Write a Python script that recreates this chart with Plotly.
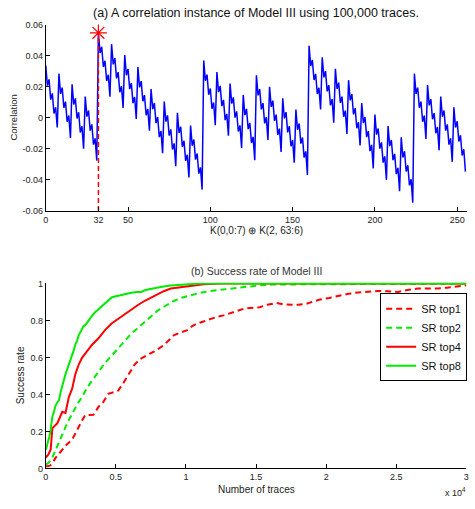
import plotly.graph_objects as go

# ---------------- data: panel (a) ----------------
key_index = list(range(256))
correlation = [
    0.0337, 0.0207, 0.0247, 0.0117, 0.0157, 0.0027, 0.0067, -0.0063,
    0.0284, 0.0154, 0.0194, 0.0064, 0.0104, -0.0026, 0.0014, -0.0130,
    0.0215, 0.0085, 0.0125, -0.0005, 0.0035, -0.0095, -0.0055, -0.0200,
    0.0137, 0.0007, 0.0047, -0.0083, -0.0043, -0.0173, -0.0133, -0.0276,
    0.0547, 0.0417, 0.0457, 0.0327, 0.0367, 0.0237, 0.0277, 0.0135,
    0.0474, 0.0344, 0.0384, 0.0254, 0.0294, 0.0164, 0.0204, 0.0063,
    0.0404, 0.0274, 0.0314, 0.0184, 0.0224, 0.0094, 0.0134, -0.0008,
    0.0326, 0.0196, 0.0236, 0.0106, 0.0146, 0.0016, 0.0056, -0.0084,
    0.0185, 0.0055, 0.0095, -0.0035, 0.0005, -0.0125, -0.0085, -0.0228,
    0.0105, -0.0025, 0.0015, -0.0115, -0.0075, -0.0205, -0.0165, -0.0312,
    0.0032, -0.0098, -0.0058, -0.0188, -0.0148, -0.0278, -0.0238, -0.0385,
    -0.0050, -0.0180, -0.0140, -0.0270, -0.0230, -0.0360, -0.0320, -0.0463,
    0.0368, 0.0238, 0.0278, 0.0148, 0.0188, 0.0058, 0.0098, -0.0048,
    0.0295, 0.0165, 0.0205, 0.0075, 0.0115, -0.0015, 0.0025, -0.0116,
    0.0221, 0.0091, 0.0131, 0.0001, 0.0041, -0.0089, -0.0049, -0.0194,
    0.0147, 0.0017, 0.0057, -0.0073, -0.0033, -0.0163, -0.0123, -0.0274,
    0.0274, 0.0144, 0.0184, 0.0054, 0.0094, -0.0036, 0.0004, -0.0143,
    0.0200, 0.0070, 0.0110, -0.0020, 0.0020, -0.0110, -0.0070, -0.0221,
    0.0126, -0.0004, 0.0036, -0.0094, -0.0054, -0.0184, -0.0144, -0.0290,
    0.0053, -0.0077, -0.0037, -0.0167, -0.0127, -0.0257, -0.0217, -0.0368,
    0.0463, 0.0333, 0.0373, 0.0243, 0.0283, 0.0153, 0.0193, 0.0053,
    0.0390, 0.0260, 0.0300, 0.0170, 0.0210, 0.0080, 0.0120, -0.0032,
    0.0316, 0.0186, 0.0226, 0.0096, 0.0136, 0.0006, 0.0046, -0.0105,
    0.0242, 0.0112, 0.0152, 0.0022, 0.0062, -0.0068, -0.0028, -0.0179,
    0.0095, -0.0035, 0.0005, -0.0125, -0.0085, -0.0215, -0.0175, -0.0326,
    0.0021, -0.0109, -0.0069, -0.0199, -0.0159, -0.0289, -0.0249, -0.0400,
    -0.0053, -0.0183, -0.0143, -0.0273, -0.0233, -0.0363, -0.0323, -0.0474,
    -0.0126, -0.0256, -0.0216, -0.0346, -0.0306, -0.0436, -0.0396, -0.0547,
    0.0284, 0.0154, 0.0194, 0.0064, 0.0104, -0.0026, 0.0014, -0.0137,
    0.0210, 0.0080, 0.0120, -0.0010, 0.0030, -0.0100, -0.0060, -0.0210,
    0.0137, 0.0007, 0.0047, -0.0083, -0.0043, -0.0173, -0.0133, -0.0284,
    0.0067, -0.0063, -0.0023, -0.0153, -0.0113, -0.0243, -0.0203, -0.0347,
]
correct_key = 32
top_xticks = [0, 32, 50, 100, 150, 200, 250]
top_yticks = [-0.06, -0.04, -0.02, 0, 0.02, 0.04, 0.06]
top_yticklabels = ["-0.06", "-0.04", "-0.02", "0", "0.02", "0.04", "0.06"]

# ---------------- data: panel (b) ----------------
top1_x = [0, 300, 500, 704, 950, 1176, 1500, 1880, 2100, 2352, 2600, 2817, 3100, 3400,
          3760, 4112, 4465, 4800, 5169, 5634, 6000, 6338, 6700, 7042, 7400, 7746, 8100,
          8450, 8800, 9155, 9600, 10098, 10450, 10803, 11250, 11739, 12200, 12683, 13150,
          13619, 14100, 14556, 15260, 15800, 16436, 16900, 17373, 18000, 18549, 19000,
          19485, 20200, 20894, 21600, 22302, 23000, 23711, 24400, 25120, 25800, 26528,
          27200, 27936, 28600, 29345, 30000]
top1_y = [0.01, 0.015, 0.03, 0.058, 0.08, 0.103, 0.13, 0.156, 0.19, 0.226, 0.26, 0.289, 0.29, 0.29,
          0.333, 0.36, 0.403, 0.41, 0.421, 0.474, 0.52, 0.562, 0.59, 0.607, 0.62, 0.633, 0.65,
          0.668, 0.695, 0.721, 0.735, 0.748, 0.77, 0.784, 0.795, 0.81, 0.82, 0.828, 0.84,
          0.854, 0.863, 0.868, 0.872, 0.885, 0.895, 0.888, 0.885, 0.885, 0.89, 0.9,
          0.912, 0.922, 0.934, 0.945, 0.952, 0.955, 0.96, 0.958, 0.955, 0.965, 0.973,
          0.973, 0.973, 0.978, 0.983, 0.99]

top2_x = [0, 200, 470, 700, 944, 1100, 1296, 1500, 1700, 1880, 2100, 2350, 2585, 2900, 3289,
          3750, 4225, 4700, 5169, 5650, 6105, 6580, 7063, 7500, 7986, 8550, 9163, 9750,
          10330, 11000, 11739, 12450, 13147, 14322, 15200, 16200, 18500, 22000, 26000, 30000]
top2_y = [0.02, 0.03, 0.058, 0.10, 0.138, 0.17, 0.2, 0.24, 0.27, 0.297, 0.33, 0.36, 0.386, 0.43, 0.474,
          0.525, 0.571, 0.61, 0.651, 0.69, 0.73, 0.76, 0.793, 0.825, 0.854, 0.88, 0.907, 0.925,
          0.937, 0.95, 0.96, 0.967, 0.973, 0.983, 0.99, 0.995, 0.997, 0.997, 0.998, 1.0]

top4_x = [0, 190, 352, 472, 824, 1176, 1408, 1647, 1880, 2113, 2352, 2585, 2937, 3289, 3760,
          4225, 4697, 5169, 5641, 6105, 6577, 7063, 7514, 7986, 8457, 8922, 9626, 10330,
          11270, 12440, 30000]
top4_y = [0.058, 0.076, 0.103, 0.218, 0.244, 0.306, 0.30, 0.386, 0.43, 0.51, 0.562, 0.598, 0.633, 0.668, 0.704,
          0.748, 0.784, 0.81, 0.837, 0.863, 0.884, 0.907, 0.925, 0.943, 0.96, 0.973, 0.98, 0.987,
          0.996, 1.0, 1.0]

top8_x = [0, 120, 250, 350, 470, 600, 700, 850, 950, 1050, 1180, 1300, 1410, 1530, 1650, 1760,
          1880, 2000, 2110, 2230, 2350, 2470, 2590, 2700, 2820, 2950, 3170, 3350, 3520, 3750,
          3990, 4230, 4460, 4700, 4930, 5200, 5450, 5700, 6100, 6500, 6800, 7100, 7500, 7900,
          8300, 8900, 9500, 10300, 11000, 30000]
top8_y = [0.10, 0.13, 0.17, 0.21, 0.28, 0.31, 0.34, 0.36, 0.37, 0.41, 0.455, 0.48, 0.51, 0.535, 0.56, 0.59,
          0.615, 0.64, 0.67, 0.69, 0.72, 0.74, 0.755, 0.77, 0.775, 0.79, 0.81, 0.83, 0.845, 0.86,
          0.88, 0.895, 0.91, 0.925, 0.93, 0.935, 0.938, 0.945, 0.95, 0.955, 0.955, 0.965, 0.972, 0.978,
          0.983, 0.99, 0.994, 0.998, 1.0, 1.0]

bottom_xticks = [0, 5000, 10000, 15000, 20000, 25000, 30000]
bottom_xticklabels = ["0", "0.5", "1", "1.5", "2", "2.5", "3"]
bottom_yticks = [0, 0.2, 0.4, 0.6, 0.8, 1]
bottom_yticklabels = ["0", "0.2", "0.4", "0.6", "0.8", "1"]

# ---------------- figure ----------------
W, H = 475, 509
FONT = "Liberation Sans, Arial, sans-serif"
RED = "rgb(255,0,0)"
GREEN = "rgb(0,235,0)"
BLUE = "rgb(0,0,255)"

fig = go.Figure()

fig.add_trace(go.Scatter(x=key_index, y=correlation, mode="lines",
                         line=dict(color=BLUE, width=1.5), showlegend=False,
                         xaxis="x", yaxis="y"))
fig.add_trace(go.Scatter(x=[correct_key, correct_key],
                         y=[top_yticks[0], correlation[correct_key]], mode="lines",
                         line=dict(color=RED, width=1.5, dash="5px,3px"), showlegend=False,
                         xaxis="x", yaxis="y"))
fig.add_trace(go.Scatter(x=[correct_key], y=[correlation[correct_key]], mode="markers",
                         marker=dict(symbol="asterisk-open", size=14, color=RED,
                                     line=dict(color=RED, width=1.2)),
                         showlegend=False, cliponaxis=False, xaxis="x", yaxis="y"))

dash = "6px,4px"
fig.add_trace(go.Scatter(x=top1_x, y=top1_y, mode="lines", name="SR top1",
                         line=dict(color=RED, width=2, dash=dash), xaxis="x2", yaxis="y2"))
fig.add_trace(go.Scatter(x=top2_x, y=top2_y, mode="lines", name="SR top2",
                         line=dict(color=GREEN, width=2, dash=dash), xaxis="x2", yaxis="y2"))
fig.add_trace(go.Scatter(x=top4_x, y=top4_y, mode="lines", name="SR top4",
                         line=dict(color=RED, width=2), xaxis="x2", yaxis="y2"))
fig.add_trace(go.Scatter(x=top8_x, y=top8_y, mode="lines", name="SR top8",
                         line=dict(color=GREEN, width=2), xaxis="x2", yaxis="y2"))

axis_common = dict(showline=True, linecolor="black", linewidth=1, mirror=False,
                   ticks="inside", ticklen=4, tickwidth=1, tickcolor="black",
                   showgrid=False, zeroline=False,
                   tickfont=dict(family=FONT, size=9, color="#222"))

fig.update_layout(
    width=W, height=H, margin=dict(l=0, r=0, t=0, b=0),
    paper_bgcolor="white", plot_bgcolor="white",
    font=dict(family=FONT, color="#222"),
    xaxis=dict(domain=[43.3 / W, 470 / W], range=[0, 256], anchor="y",
               tickmode="array", tickvals=top_xticks, ticktext=[str(t) for t in top_xticks],
               **axis_common),
    yaxis=dict(domain=[1 - 210 / H, 1 - 20 / H], range=[-0.06, 0.06], anchor="x",
               tickmode="array", tickvals=top_yticks, ticktext=top_yticklabels,
               **axis_common),
    xaxis2=dict(domain=[43.3 / W, 469.3 / W], range=[0, 30000], anchor="y2",
                tickmode="array", tickvals=bottom_xticks, ticktext=bottom_xticklabels,
                **axis_common),
    yaxis2=dict(domain=[1 - 472.7 / H, 1 - 283.4 / H], range=[0, 1.004], anchor="x2",
                tickmode="array", tickvals=bottom_yticks, ticktext=bottom_yticklabels,
                **axis_common),
    legend=dict(x=382 / W, y=1 - 294 / H, xanchor="left", yanchor="top",
                bgcolor="white", bordercolor="black", borderwidth=1,
                font=dict(family=FONT, size=11, color="#111"),
                itemwidth=30, tracegroupgap=0),
)

ann = [
    dict(text="(a) A correlation instance of Model III using 100,000 traces.",
         x=256.5 / W, y=1 - 8 / H, size=12.5, color="#111"),
    dict(text="K(0,0:7) \u2295 K(2, 63:6)", x=256.5 / W, y=1 - 230 / H, size=10, color="#222"),
    dict(text="Correlation", x=11 / W, y=1 - 115 / H, size=9.5, color="#222", angle=-90),
    dict(text="(b) Success rate of Model III", x=256.3 / W, y=1 - 271.5 / H, size=10.5, color="#333"),
    dict(text="Number of traces", x=256.3 / W, y=1 - 494 / H, size=10, color="#222"),
    dict(text="Success rate", x=18 / W, y=1 - 378 / H, size=10, color="#222", angle=-90),
    dict(text="x 10<sup>4</sup>", x=458 / W, y=1 - 497 / H, size=9, color="#222"),
]
for a in ann:
    fig.add_annotation(text=a["text"], x=a["x"], y=a["y"], xref="paper", yref="paper",
                       xanchor="center", yanchor="middle", showarrow=False,
                       textangle=a.get("angle", 0),
                       font=dict(family=FONT, size=a["size"], color=a["color"]))

fig.write_html("out.html")
